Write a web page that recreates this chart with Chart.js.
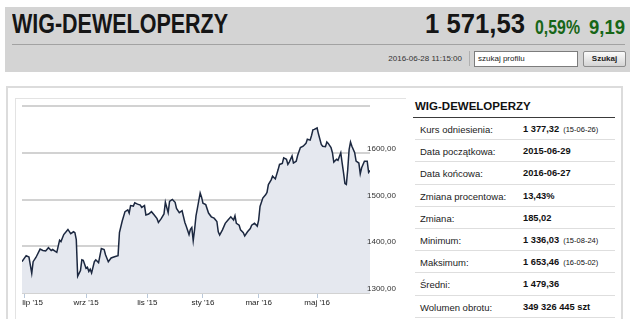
<!DOCTYPE html>
<html><head><meta charset="utf-8">
<script src="https://cdn.jsdelivr.net/npm/chart.js@4.4.1/dist/chart.umd.min.js"></script>
<style>
html,body{margin:0;padding:0;background:#fff;width:640px;height:319px;overflow:hidden;font-family:"Liberation Sans",Arial,sans-serif;color:#222;}
.abs{position:absolute;}
#hdr{left:5px;top:7px;width:625px;height:65px;background:#d4d4d4;}
.big{font-family:"Liberation Sans",Arial,sans-serif;font-weight:bold;white-space:nowrap;transform-origin:0 0;}
#title{left:12px;top:11px;font-size:27px;line-height:27px;color:#151515;}
#q1{left:425px;top:11px;font-size:27px;line-height:27px;color:#151515;}
#q2{left:535px;top:17px;font-size:20px;line-height:20px;color:#176617;}
#q3{left:589px;top:17px;font-size:20px;line-height:20px;color:#176617;}
#sep{left:12px;top:44px;width:613px;height:1px;background:#a2a2a2;}
#date{right:178px;top:53px;font-size:8px;line-height:11px;color:#333;white-space:nowrap;}
#vsep{left:469px;top:51px;width:1px;height:15px;background:#b0b0b0;}
#inp{left:474px;top:51px;width:104px;height:16px;box-sizing:border-box;border:1px solid #7c7c7c;background:#fff;font-size:8px;line-height:13px;padding-left:3px;color:#222;}
#btn{left:583px;top:51px;width:43px;height:16px;box-sizing:border-box;border:1px solid #8c8c8c;border-radius:2px;background:linear-gradient(#fbfbfb,#d4d4d4);font-size:8px;font-weight:bold;line-height:14px;text-align:center;color:#222;}
#outer{left:6px;top:86px;width:617px;height:260px;box-sizing:border-box;border:2px solid #dcdcdc;}
#inner{left:15px;top:98px;width:391px;height:250px;box-sizing:border-box;border-top:1px solid #e3e3e3;border-left:1px solid #e3e3e3;}
#chartBox{left:15px;top:98px;width:390px;height:221px;}
#stitle{left:415px;top:99px;font-size:11.5px;font-weight:bold;line-height:14px;color:#111;}
#srule{left:413px;top:117px;width:202px;height:1px;background:#3a3a3a;}
#rows{left:415px;top:118px;width:200px;}
.row{height:21.2px;border-bottom:1px solid #dedede;position:relative;font-size:9.5px;line-height:21px;}
.row .l{position:absolute;left:5px;top:1px;color:#222;}
.row .v{position:absolute;left:108px;top:1px;font-weight:bold;font-size:9.3px;color:#111;white-space:nowrap;}
.row .v small{font-weight:normal;font-size:7.5px;margin-left:4px;}
</style></head>
<body>
<div id="hdr" class="abs"></div>
<div id="title" class="abs big" data-w="216">WIG-DEWELOPERZY</div>
<div id="q1" class="abs big" data-w="100">1 571,53</div>
<div id="q2" class="abs big" data-w="45">0,59%</div>
<div id="q3" class="abs big" data-w="36">9,19</div>
<div id="sep" class="abs"></div>
<div id="date" class="abs">2016-06-28 11:15:00</div>
<div id="vsep" class="abs"></div>
<div id="inp" class="abs">szukaj profilu</div>
<div id="btn" class="abs">Szukaj</div>
<div id="outer" class="abs"></div>
<div id="inner" class="abs"></div>
<div id="chartBox" class="abs"><canvas id="c"></canvas></div>
<div id="stitle" class="abs">WIG-DEWELOPERZY</div>
<div id="srule" class="abs"></div>
<div id="rows" class="abs"></div>
<script>
// trading-day index (0 = 2015-06-29 ... 250 = 2016-06-27) and index value
const days = [0,3,5,7,8,10,13,15,17,19,21,22,25,27,28,30,33,35,37,38,39,40,42,43,44,46,47,48,49,50,52,53,55,57,59,60,62,64,67,69,70,72,74,76,77,78,80,81,83,85,86,88,89,91,93,95,97,98,100,102,103,105,106,108,110,111,113,115,117,118,120,121,122,123,124,125,126,128,129,130,132,134,136,138,140,141,142,144,146,148,150,152,153,154,156,157,159,160,162,164,165,167,169,170,171,173,175,176,177,179,180,182,184,185,187,188,190,191,192,194,195,197,198,200,202,204,205,207,208,209,210,212,213,215,216,218,219,220,222,223,224,226,227,229,230,231,232,233,234,235,236,237,239,240,242,243,244,246,248,249,250];
const values = [1367,1380,1377,1342,1367,1376,1394,1391,1390,1397,1391,1393,1387,1413,1410,1425,1436,1427,1431,1429,1414,1336,1348,1371,1370,1353,1355,1346,1351,1343,1367,1371,1365,1395,1393,1382,1367,1375,1378,1380,1429,1454,1474,1478,1471,1487,1486,1493,1490,1488,1483,1487,1467,1469,1474,1467,1459,1451,1459,1469,1494,1472,1496,1500,1494,1481,1472,1476,1451,1443,1425,1436,1440,1412,1436,1465,1481,1514,1505,1492,1489,1471,1463,1460,1453,1431,1424,1435,1449,1456,1463,1456,1465,1449,1445,1435,1429,1422,1431,1438,1445,1449,1443,1456,1485,1503,1510,1515,1532,1542,1550,1544,1564,1575,1577,1589,1586,1575,1580,1593,1578,1582,1594,1611,1614,1620,1629,1627,1637,1649,1650,1653,1640,1618,1614,1613,1623,1620,1611,1600,1580,1586,1584,1600,1578,1557,1534,1532,1564,1607,1623,1614,1600,1582,1578,1555,1568,1582,1582,1558,1562];
const monthTickDays = [2,46,90,130,170,212];
const monthTickLabels = ["lip '15","wrz '15","lis '15","sty '16","mar '16","maj '16"];
const yTickValues = [1300,1400,1500,1600];
const yTickLabels = ["1300,00","1400,00","1500,00","1600,00"];

const statLabels = ["Kurs odniesienia:","Data początkowa:","Data końcowa:","Zmiana procentowa:","Zmiana:","Minimum:","Maksimum:","Średni:","Wolumen obrotu:"];
const statValues = ["1 377,32","2015-06-29","2016-06-27","13,43%","185,02","1 336,03","1 653,46","1 479,36","349 326 445 szt"];
const statDates = ["(15-06-26)","","","","","(15-08-24)","(16-05-02)","",""];

// condense the header texts to the reference widths
document.querySelectorAll('.big').forEach(el=>{
  const w = el.getBoundingClientRect().width;
  el.style.transform = 'scaleX(' + (parseFloat(el.dataset.w)/w) + ')';
});

const rows = document.getElementById('rows');
statLabels.forEach((l,i)=>{
  const r = document.createElement('div'); r.className='row';
  const a = document.createElement('span'); a.className='l'; a.textContent=l;
  const b = document.createElement('span'); b.className='v'; b.textContent=statValues[i];
  if (statDates[i]) { const s=document.createElement('small'); s.textContent=statDates[i]; b.appendChild(s); }
  r.appendChild(a); r.appendChild(b); rows.appendChild(r);
});

const pts = days.map((d,i)=>({x:d,y:values[i]}));
new Chart(document.getElementById('c'), {
  type:'line',
  data:{datasets:[{data:pts,borderColor:'#1c2840',borderWidth:1.5,pointRadius:0,fill:'start',backgroundColor:'#e5e8ef',tension:0}]},
  options:{
    responsive:true,maintainAspectRatio:false,animation:false,
    layout:{padding:{left:7,top:8,right:0,bottom:0}},
    plugins:{legend:{display:false},tooltip:{enabled:false}},
    scales:{
      x:{type:'linear',min:0,max:250,
        afterBuildTicks:s=>{s.ticks=monthTickDays.map(v=>({value:v}));},
        afterFit:s=>{s.height=26;s.paddingLeft=0;s.paddingRight=0;},
        border:{display:false},
        grid:{drawOnChartArea:false,drawTicks:true,tickLength:5,color:'#b9c8da',lineWidth:1},
        ticks:{autoSkip:false,maxRotation:0,padding:0,color:'#222',font:{family:'Liberation Sans',size:8},
          callback:v=>{const i=monthTickDays.indexOf(v);return i<0?'':(i===0?'       '+monthTickLabels[i]:monthTickLabels[i]);}}
      },
      y:{position:'right',min:1300,max:1700,
        afterBuildTicks:s=>{s.ticks=yTickValues.concat([1700]).map(v=>({value:v}));},
        afterFit:s=>{s.width=35;s.paddingTop=0;s.paddingBottom=0;s._computeLabelArea=function(){return undefined;};},
        border:{display:false},
        grid:{drawTicks:false,color:'#d2d2d2',lineWidth:2},
        ticks:{z:1,padding:-3,color:'#333',font:{family:'Liberation Sans',size:8,lineHeight:'8px'},
          callback:v=>{const i=yTickValues.indexOf(v);return i<0?'':[yTickLabels[i],''];}}
      }
    }
  }
});
</script>
</body></html>
